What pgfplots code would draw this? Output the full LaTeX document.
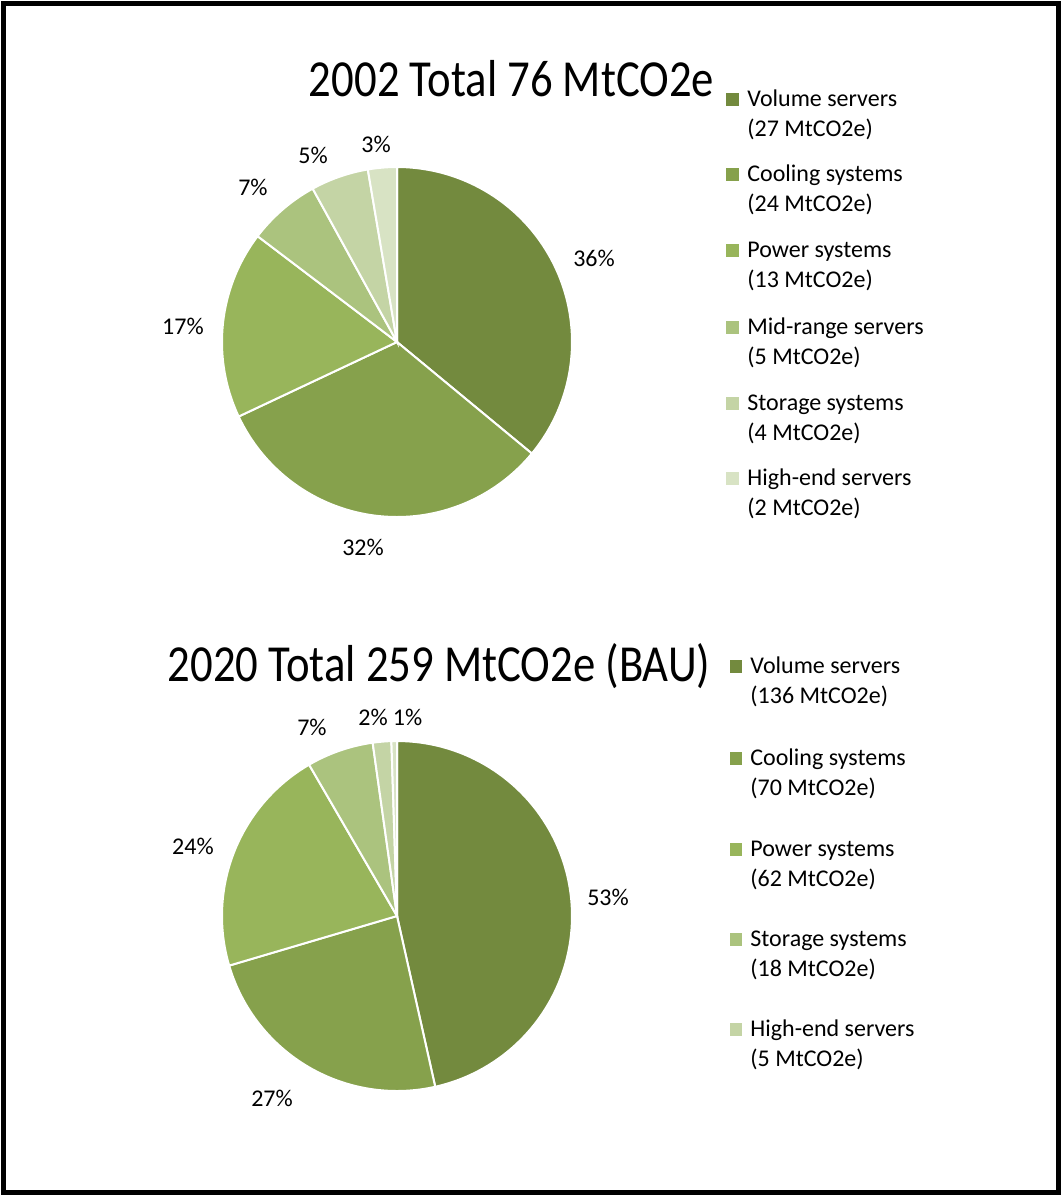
\documentclass[border=0pt]{standalone}
\usepackage{pgfplots}
\pgfplotsset{compat=1.18}
\usepackage{pgfplotstable}
\usepackage{fontspec}
\setmainfont{Carlito}
\newfontfamily\titlefont[FakeStretch=0.86]{Carlito}

\definecolor{pie0}{HTML}{738A3E}
\definecolor{pie1}{HTML}{86A14C}
\definecolor{pie2}{HTML}{98B55B}
\definecolor{pie3}{HTML}{ABC37E}
\definecolor{pie4}{HTML}{C4D4A5}
\definecolor{pie5}{HTML}{D8E3C4}

% 2002 (MtCO2e)
\pgfplotstableread{
val
27
24
13
5
4
2
}\dataA
% 2020 BAU (MtCO2e)
\pgfplotstableread{
val
136
70
62
18
5
1.5
}\dataB

\newcommand\drawpie[1]{%
  \xdef\pietot{0}%
  \pgfplotstableforeachcolumnelement{val}\of#1\as\pieval{%
    \pgfmathparse{\pietot+\pieval}\xdef\pietot{\pgfmathresult}}%
  \xdef\piecum{0}%
  \pgfplotstableforeachcolumnelement{val}\of#1\as\pieval{%
    \pgfmathsetmacro\pieA{(\piecum/\pietot)*360}%
    \pgfmathparse{\piecum+\pieval}\xdef\piecum{\pgfmathresult}%
    \pgfmathsetmacro\pieB{(\piecum/\pietot)*360}%
    \edef\pietemp{\noexpand\addplot[fill=pie\pgfplotstablerow, draw=white,
      line width=1pt, domain=\pieA:\pieB, samples=90]
      ({sin(x)},{cos(x)}) -- (axis cs:0,0) -- cycle;}%
    \pietemp
  }%
}

\tikzset{pct/.style={font=\fontsize{12pt}{14pt}\selectfont, inner sep=0pt}}

\begin{document}
\begin{tikzpicture}
\begin{scope}[x=0.5pt,y=-0.5pt]
  \useasboundingbox (0,0) rectangle (1062,1196);
  \draw[line width=2.3pt] (3.5,3.5) rectangle (1058.5,1192.5);
\end{scope}

\pgfplotsset{pieaxis/.style={hide axis, clip=false, x=87.5pt, y=87.5pt,
  xmin=-1, xmax=1, ymin=-1, ymax=1, anchor=origin}}

\begin{axis}[pieaxis, at={(198.5pt,-171pt)}]
  \drawpie{\dataA}
  \node[pct] at (axis cs:1.126,0.48) {36\%};
  \node[pct] at (axis cs:-0.194,-1.171) {32\%};
  \node[pct] at (axis cs:-1.223,0.091) {17\%};
  \node[pct] at (axis cs:-0.823,0.886) {7\%};
  \node[pct] at (axis cs:-0.48,1.069) {5\%};
  \node[pct] at (axis cs:-0.12,1.131) {3\%};
\end{axis}

\begin{axis}[pieaxis, at={(198.5pt,-458pt)}]
  \drawpie{\dataB}
  \node[pct] at (axis cs:1.206,0.109) {53\%};
  \node[pct] at (axis cs:-0.714,-1.04) {27\%};
  \node[pct] at (axis cs:-1.166,0.4) {24\%};
  \node[pct] at (axis cs:-0.486,1.08) {7\%};
  \node[pct] at (axis cs:-0.137,1.137) {2\%};
  \node[pct] at (axis cs:0.06,1.137) {1\%};
\end{axis}

\begin{scope}[x=0.5pt,y=-0.5pt, every node/.style={inner sep=0pt, font=\fontsize{12pt}{15pt}\selectfont}]
  % titles
  \node[anchor=base, font=\titlefont\fontsize{26pt}{30pt}\selectfont] at (511.5,96) {2002 Total 76 MtCO2e};
  \node[anchor=base, font=\titlefont\fontsize{26pt}{30pt}\selectfont] at (439,681) {2020 Total 259 MtCO2e (BAU)};
  % legend 2002
  \foreach \c/\yb/\ta/\tb in {0/106.7/Volume servers/(27 MtCO2e),
                              1/181.7/Cooling systems/(24 MtCO2e),
                              2/257.5/Power systems/(13 MtCO2e),
                              3/334.5/Mid-range servers/(5 MtCO2e),
                              4/410/Storage systems/(4 MtCO2e),
                              5/485/High-end servers/(2 MtCO2e)}{
    \fill[pie\c] (726,\yb-13.5) rectangle (739,\yb-0.5);
    \node[anchor=base west] at (747,\yb) {\ta};
    \node[anchor=base west] at (747,\yb+30) {\tb};
  }
  % legend 2020
  \foreach \c/\yb/\ta/\tb in {0/673/Volume servers/(136 MtCO2e),
                              1/765/Cooling systems/(70 MtCO2e),
                              2/856.7/Power systems/(62 MtCO2e),
                              3/946.7/Storage systems/(18 MtCO2e),
                              4/1036.7/High-end servers/(5 MtCO2e)}{
    \fill[pie\c] (730,\yb-13.5) rectangle (742,\yb-0.5);
    \node[anchor=base west] at (750,\yb) {\ta};
    \node[anchor=base west] at (750,\yb+30) {\tb};
  }
\end{scope}
\end{tikzpicture}
\end{document}
